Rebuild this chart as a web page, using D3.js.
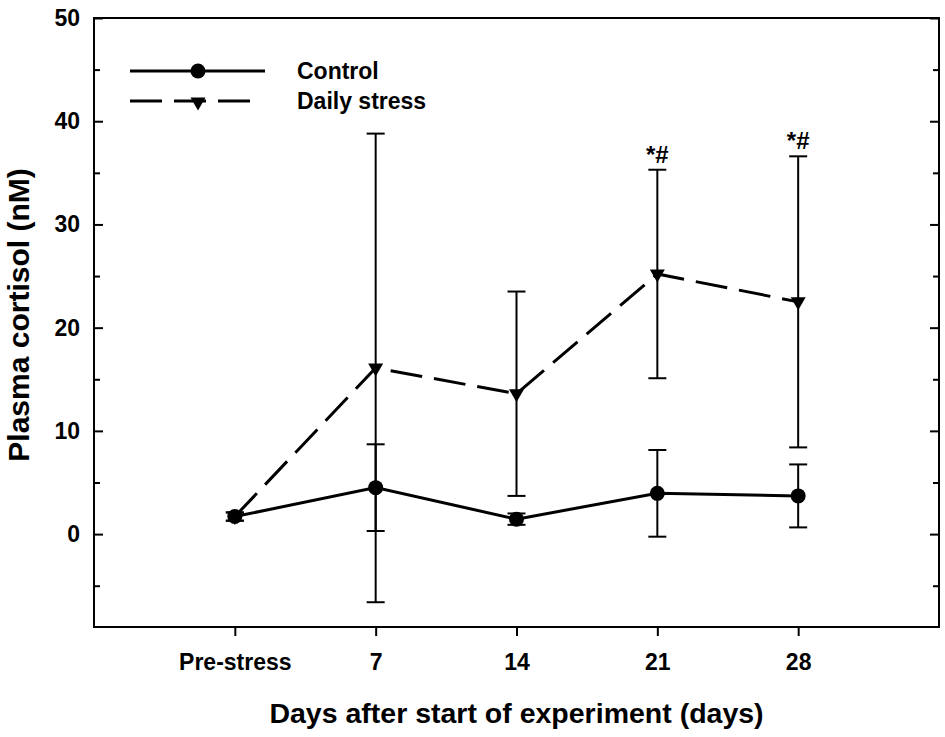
<!DOCTYPE html>
<html>
<head>
<meta charset="utf-8">
<script src="https://cdn.jsdelivr.net/npm/d3@7"></script>
<style>
    body { margin: 0; background: #fff; }
    text { font-family: "Liberation Sans", Arial, sans-serif; font-weight: bold; fill: #000; }
</style>
</head>
<body>
<script>
// values (mean and SD per time point)
const days = ["Pre-stress", "7", "14", "21", "28"];
const controlMean = [1.7, 4.5, 1.45, 3.95, 3.7];
const controlSD = [0.4, 4.2, 0.55, 4.2, 3.05];
const stressMean = [1.7, 16.1, 13.6, 25.2, 22.5];
const stressSD = [0.4, 22.7, 9.9, 10.1, 14.1];
const marks = ["", "", "", "*#", "*#"];
const legendLabels = ["Control", "Daily stress"];
const yTicks = [0, 10, 20, 30, 40, 50];
const yMinorTicks = [-5, 5, 15, 25, 35, 45];

const width = 945, height = 737;
const plotLeft = 94, plotRight = 939, plotTop = 18, plotBottom = 627;

const svg = d3.select("body").append("svg")
    .attr("width", width)
    .attr("height", height);

let x = d3.scaleLinear().domain([-1, 5]).range([plotLeft, plotRight]);
let y = d3.scaleLinear().domain([-9, 50]).range([plotBottom, plotTop]);

// frame
svg.append("rect")
    .attr("x", plotLeft).attr("y", plotTop)
    .attr("width", plotRight - plotLeft).attr("height", plotBottom - plotTop)
    .style("fill", "none").style("stroke", "#000").style("stroke-width", 2);

function styleAxis(g){
    g.select(".domain").remove();
    g.selectAll("line").style("stroke", "#000").style("stroke-width", 2);
    g.selectAll("text").style("font-size", "23px").style("font-family", null);
}

// y axis, ticks point inward
svg.append("g")
    .attr("transform", "translate(" + plotLeft + ",0)")
    .call(d3.axisLeft(y).tickValues(yTicks).tickSizeInner(-9).tickSizeOuter(0).tickPadding(14))
    .call(styleAxis);
svg.append("g")
    .attr("transform", "translate(" + plotLeft + ",0)")
    .call(d3.axisLeft(y).tickValues(yMinorTicks).tickSizeInner(-6).tickSizeOuter(0).tickFormat(""))
    .call(styleAxis);
svg.append("g")
    .attr("transform", "translate(" + plotRight + ",0)")
    .call(d3.axisRight(y).tickValues(yTicks).tickSizeInner(-9).tickSizeOuter(0).tickFormat(""))
    .call(styleAxis);
svg.append("g")
    .attr("transform", "translate(" + plotRight + ",0)")
    .call(d3.axisRight(y).tickValues(yMinorTicks).tickSizeInner(-6).tickSizeOuter(0).tickFormat(""))
    .call(styleAxis);

// x axis
svg.append("g")
    .attr("transform", "translate(0," + plotBottom + ")")
    .call(d3.axisBottom(x).tickValues(d3.range(days.length)).tickFormat((d) => days[d])
        .tickSizeInner(9).tickSizeOuter(0).tickPadding(18))
    .call(styleAxis);

// axis titles
svg.append("text")
    .attr("x", (plotLeft + plotRight) / 2)
    .attr("y", 723)
    .attr("text-anchor", "middle")
    .style("font-size", "28.5px")
    .text("Days after start of experiment (days)");

svg.append("text")
    .attr("transform", "translate(29," + 315 + ") rotate(-90)")
    .attr("text-anchor", "middle")
    .style("font-size", "30px")
    .text("Plasma cortisol (nM)");

const triangle = "M-7.5,-4.5L7.5,-4.5L0,8.5Z";

function drawErrorBars(means, sds){
    let g = svg.append("g");
    means.forEach((m, i) => {
        const cx = x(i), y1 = y(m - sds[i]), y2 = y(m + sds[i]);
        g.append("line").attr("x1", cx).attr("x2", cx).attr("y1", y1).attr("y2", y2);
        g.append("line").attr("x1", cx - 9).attr("x2", cx + 9).attr("y1", y1).attr("y2", y1);
        g.append("line").attr("x1", cx - 9).attr("x2", cx + 9).attr("y1", y2).attr("y2", y2);
    });
    g.selectAll("line").style("stroke", "#000").style("stroke-width", 2);
}

drawErrorBars(stressMean, stressSD);
drawErrorBars(controlMean, controlSD);

const line = d3.line()
    .x((d, i) => x(i))
    .y((d) => y(d));

svg.append("path")
    .attr("d", line(stressMean))
    .style("fill", "none").style("stroke", "#000").style("stroke-width", 3)
    .style("stroke-dasharray", "32,12");

svg.append("path")
    .attr("d", line(controlMean))
    .style("fill", "none").style("stroke", "#000").style("stroke-width", 3);

svg.append("g").selectAll("path")
    .data(stressMean)
    .enter().append("path")
    .attr("d", triangle)
    .attr("transform", (d, i) => "translate(" + x(i) + "," + y(d) + ")")
    .style("fill", "#000");

svg.append("g").selectAll("circle")
    .data(controlMean)
    .enter().append("circle")
    .attr("cx", (d, i) => x(i))
    .attr("cy", (d) => y(d))
    .attr("r", 7.5)
    .style("fill", "#000");

// significance marks over the stress bars
svg.append("g").selectAll("text")
    .data(marks)
    .enter().append("text")
    .attr("x", (d, i) => x(i))
    .attr("y", (d, i) => y(stressMean[i] + stressSD[i]) - 7)
    .attr("text-anchor", "middle")
    .style("font-size", "24px")
    .text((d) => d);

// legend
let legend = svg.append("g");
legend.append("line")
    .attr("x1", 130).attr("x2", 265).attr("y1", 71).attr("y2", 71)
    .style("stroke", "#000").style("stroke-width", 3);
legend.append("circle")
    .attr("cx", 198).attr("cy", 71).attr("r", 7.5).style("fill", "#000");
legend.append("line")
    .attr("x1", 130).attr("x2", 251).attr("y1", 101).attr("y2", 101)
    .style("stroke", "#000").style("stroke-width", 3)
    .style("stroke-dasharray", "32,12");
legend.append("path")
    .attr("d", triangle)
    .attr("transform", "translate(198,102)")
    .style("fill", "#000");
legend.selectAll("text")
    .data(legendLabels)
    .enter().append("text")
    .attr("x", 297)
    .attr("y", (d, i) => 79 + i * 30)
    .style("font-size", "23px")
    .text((d) => d);
</script>
</body>
</html>
